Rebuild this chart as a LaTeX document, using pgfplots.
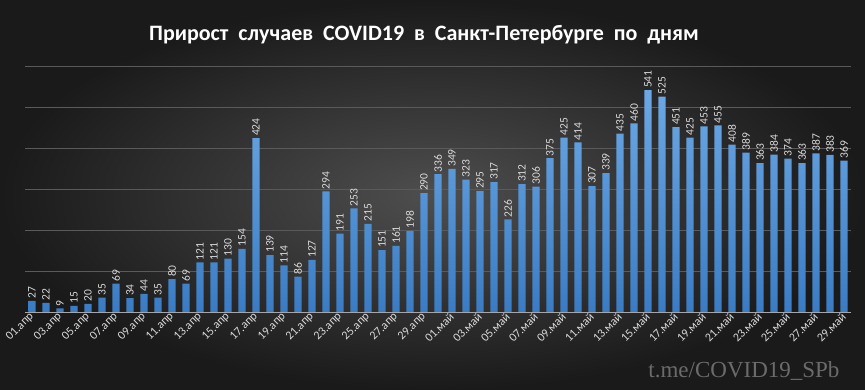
\documentclass[border=0pt]{standalone}
\usepackage{pgfplots}
\pgfplotsset{compat=1.18}
\usepackage{pgfplotstable}
\usepackage{fontspec}
\setmainfont{Carlito}
\newfontfamily\wmfont{Liberation Serif}
\definecolor{bgin}{HTML}{4E4E4E}
\definecolor{bgout}{HTML}{1A1A1A}
\definecolor{bartop}{HTML}{6CA8E4}
\definecolor{barbot}{HTML}{3A7CC4}
\definecolor{lbl}{HTML}{D9D9D9}
\definecolor{gridc}{HTML}{5A5A5A}
\pgfplotstableread{
x y
0 27
1 22
2 9
3 15
4 20
5 35
6 69
7 34
8 44
9 35
10 80
11 69
12 121
13 121
14 130
15 154
16 424
17 139
18 114
19 86
20 127
21 294
22 191
23 253
24 215
25 151
26 161
27 198
28 290
29 336
30 349
31 323
32 295
33 317
34 226
35 312
36 306
37 375
38 425
39 414
40 307
41 339
42 435
43 460
44 541
45 525
46 451
47 425
48 453
49 455
50 408
51 389
52 363
53 384
54 374
55 363
56 387
57 383
58 369
}\datatable
\begin{document}
\begin{tikzpicture}[x=1pt,y=1pt]
\shade[inner color=bgin, outer color=bgout] (0,0) rectangle (865,390);
\node[font=\bfseries\fontsize{22}{24}\selectfont, text=white] at (424,355) {Прирост\ \ случаев\ \ COVID19\ \ в\ \ Санкт-Петербурге\ \ по\ \ дням};
\node[font=\wmfont\fontsize{23}{25}\selectfont, text=white!42!black, anchor=base east] at (843,12) {t.me/COVID19\_SPb};
\begin{axis}[
  at={(25pt,78pt)}, anchor=south west,
  scale only axis, width=826pt, height=246pt,
  xmin=-0.5, xmax=58.5, ymin=0, ymax=600,
  axis x line*=bottom, axis y line*=left,
  x axis line style={draw=white!65!black, line width=0.8pt, -},
  y axis line style={draw=none},
  ytick={100,200,...,600}, yticklabels={}, ymajorgrids,
  major y tick style={draw=none},
  grid style={draw=gridc, line width=0.75pt},
  xtick={0,2,...,58},
  xticklabels={01.апр,03.апр,05.апр,07.апр,09.апр,11.апр,13.апр,15.апр,17.апр,19.апр,21.апр,23.апр,25.апр,27.апр,29.апр,01.май,03.май,05.май,07.май,09.май,11.май,13.май,15.май,17.май,19.май,21.май,23.май,25.май,27.май,29.май},
  major x tick style={draw=none},
  extra x ticks={-0.5,1.5,...,57.5},
  extra x tick labels={},
  extra x tick style={major tick length=5pt, tick style={draw=white!65!black, line width=0.8pt}, tick align=outside, grid=none},
  xticklabel style={rotate=45, anchor=east, font=\fontsize{12}{12}\selectfont, text=lbl, inner sep=1pt, xshift=2pt, yshift=1pt},
  /pgf/number format/assume math mode=true,
  ybar, bar width=7.3pt,
  nodes near coords,
  every node near coord/.append style={rotate=90, anchor=west, font=\fontsize{11.5}{12}\selectfont, text=lbl, inner sep=2pt, xshift=0pt},
]
\addplot[draw=none, top color=bartop, bottom color=barbot] table[x=x, y=y] {\datatable};
\end{axis}
\end{tikzpicture}
\end{document}
